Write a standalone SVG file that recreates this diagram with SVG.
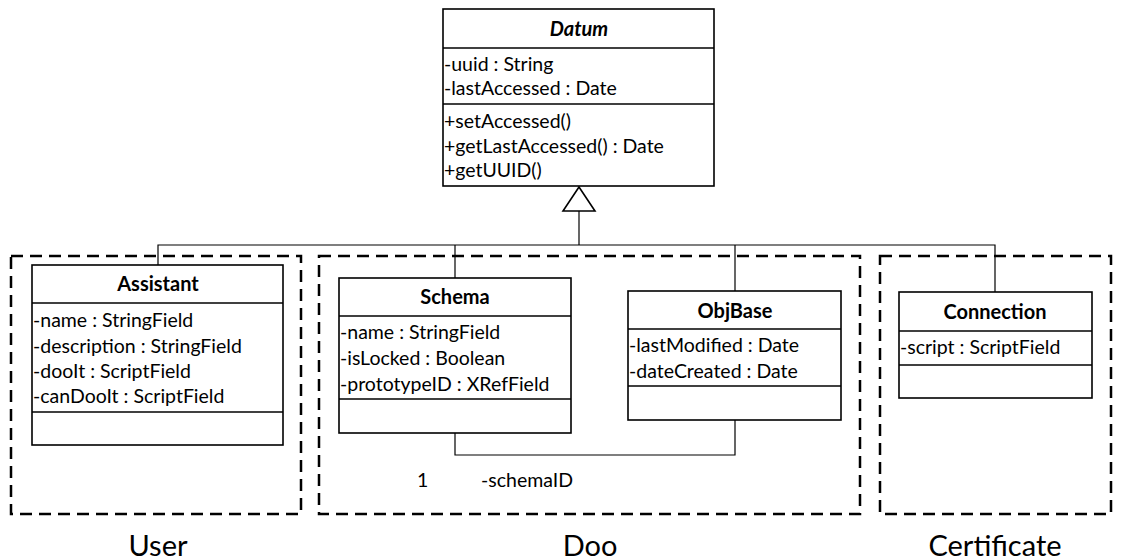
<svg xmlns="http://www.w3.org/2000/svg" width="1127" height="560" viewBox="0 0 1127 560">
  <style>
    .box { fill: #fff; stroke: #000; stroke-width: 1.6; }
    .sep { stroke: #000; stroke-width: 1.6; }
    .pkg { fill: none; stroke: #000; stroke-width: 2.5; stroke-dasharray: 12 7; }
    .wire { fill: none; stroke: #000; stroke-width: 1.2; }
    text { font-family: "Lato", "Open Sans", sans-serif; fill: #000; }
    .title { font-size: 20px; font-weight: bold; text-anchor: middle; }
    .attr { font-size: 19.5px; }
    .pkgname { font-size: 29px; text-anchor: middle; }
  </style>

  <!-- packages -->
  <g id="pkg-user">
    <rect class="pkg" x="11" y="256" width="290" height="258"/>
    <text class="pkgname" x="158" y="556">User</text>
  </g>
  <g id="pkg-doo">
    <rect class="pkg" x="319" y="256" width="541" height="258"/>
    <text class="pkgname" x="590" y="556">Doo</text>
  </g>
  <g id="pkg-certificate">
    <rect class="pkg" x="880" y="256" width="231" height="258"/>
    <text class="pkgname" x="995" y="556">Certificate</text>
  </g>

  <!-- connectors -->
  <g id="connectors">
    <polyline class="wire" points="579,211 579,245"/>
    <polyline class="wire" points="158,265 158,245 995,245 995,292"/>
    <polyline class="wire" points="455,245 455,278"/>
    <polyline class="wire" points="735,245 735,291"/>
    <polyline class="wire" points="455,433 455,455 735,455 735,420"/>
    <polygon points="579,187 563,211 595,211" fill="#fff" stroke="#000" stroke-width="1.6"/>
    <text class="attr" x="417" y="487">1</text>
    <text class="attr" x="481" y="487">-schemaID</text>
  </g>

  <!-- classes -->
  <g id="datum">
    <rect class="box" x="443" y="9" width="271" height="177"/>
    <line class="sep" x1="443" y1="48" x2="714" y2="48"/>
    <line class="sep" x1="443" y1="104" x2="714" y2="104"/>
    <text class="title" x="579" y="36" font-style="italic">Datum</text>
    <text class="attr" x="444" y="71">-uuid : String</text>
    <text class="attr" x="444" y="95">-lastAccessed : Date</text>
    <text class="attr" x="444" y="128">+setAccessed()</text>
    <text class="attr" x="444" y="153">+getLastAccessed() : Date</text>
    <text class="attr" x="444" y="177">+getUUID()</text>
  </g>

  <g id="assistant">
    <rect class="box" x="32" y="265" width="251" height="180"/>
    <line class="sep" x1="32" y1="303" x2="283" y2="303"/>
    <line class="sep" x1="32" y1="412" x2="283" y2="412"/>
    <text class="title" x="158" y="291">Assistant</text>
    <text class="attr" x="33" y="327">-name : StringField</text>
    <text class="attr" x="33" y="353">-description : StringField</text>
    <text class="attr" x="33" y="378">-dooIt : ScriptField</text>
    <text class="attr" x="33" y="403">-canDooIt : ScriptField</text>
  </g>

  <g id="schema">
    <rect class="box" x="339" y="278" width="232" height="155"/>
    <line class="sep" x1="339" y1="316" x2="571" y2="316"/>
    <line class="sep" x1="339" y1="399" x2="571" y2="399"/>
    <text class="title" x="455" y="304">Schema</text>
    <text class="attr" x="340" y="339">-name : StringField</text>
    <text class="attr" x="340" y="365">-isLocked : Boolean</text>
    <text class="attr" x="340" y="391">-prototypeID : XRefField</text>
  </g>

  <g id="objbase">
    <rect class="box" x="628" y="291" width="213" height="129"/>
    <line class="sep" x1="628" y1="329" x2="841" y2="329"/>
    <line class="sep" x1="628" y1="386" x2="841" y2="386"/>
    <text class="title" x="735" y="318">ObjBase</text>
    <text class="attr" x="629" y="352">-lastModified : Date</text>
    <text class="attr" x="629" y="378">-dateCreated : Date</text>
  </g>

  <g id="connection">
    <rect class="box" x="899" y="292" width="193" height="106"/>
    <line class="sep" x1="899" y1="331" x2="1092" y2="331"/>
    <line class="sep" x1="899" y1="365" x2="1092" y2="365"/>
    <text class="title" x="995" y="319">Connection</text>
    <text class="attr" x="900" y="354">-script : ScriptField</text>
  </g>
</svg>
